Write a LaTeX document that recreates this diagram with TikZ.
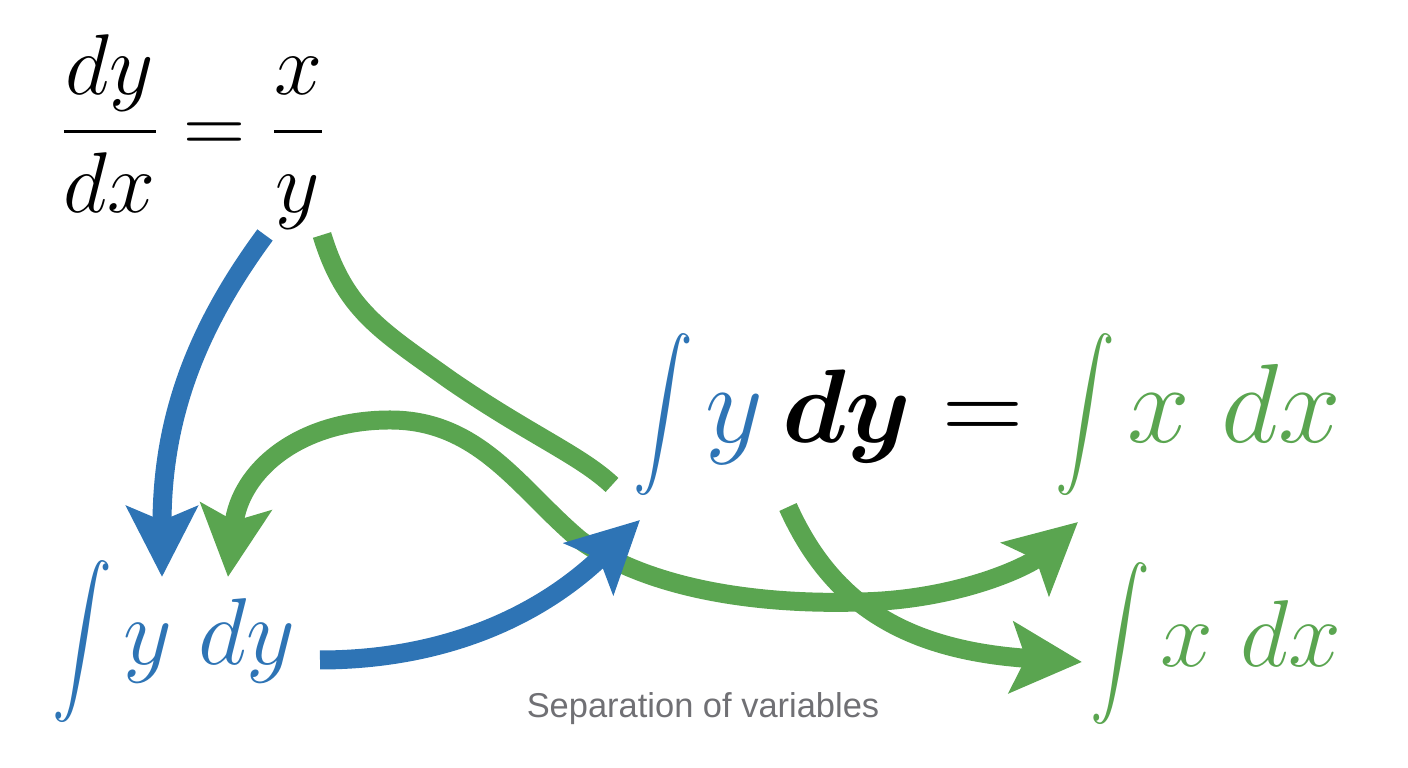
\RequirePackage{fix-cm}
\documentclass[tikz,border=0pt]{standalone}
\usepackage{exscale}
\usepackage{fontspec}
\usepackage{bm}
\newfontfamily\capfont{Liberation Sans}
\usetikzlibrary{arrows.meta}
\definecolor{flowblue}{RGB}{46,116,181}
\definecolor{flowgreen}{RGB}{90,165,80}
\definecolor{capgray}{RGB}{112,112,116}
% tall integral sign, centred on the math axis
\newcommand{\tallint}[1]{\vcenter{\hbox{\scalebox{0.82}[1]{\fontsize{#1}{#1}\selectfont$\displaystyle\int$}}}}

\begin{document}
\begin{tikzpicture}[x=0.01cm, y=-0.01cm,
	every node/.style={inner sep=0pt},
	>={Stealth[length=20pt,width=20pt,inset=4pt]},
	flow/.style={line width=5.4pt},
	blueflow/.style={flow, draw=flowblue},
	greenflow/.style={flow, draw=flowgreen}]
\useasboundingbox (0,0) rectangle (1408,768);

% the equations
\node[font=\fontsize{24.5}{29}\selectfont] (eq) at (193,132) {$\displaystyle\frac{dy}{dx} = \frac{x}{y}$};
\node[font=\fontsize{32}{38}\selectfont, anchor=base east] (sep) at (1342,443)
	{${\color{flowblue}\tallint{21.5}\mkern2mu y}\,\hbox{\scalebox{0.93}{$\bm{dy}$}} = {\color{flowgreen}\tallint{21.5}\mkern2mu x\;dx}$};
\node[font=\fontsize{27}{32}\selectfont, text=flowblue, anchor=base west] (inty) at (52,665) {$\tallint{19.2}\mkern2mu y\;dy$};
\node[font=\fontsize{27}{32}\selectfont, text=flowgreen, anchor=base east] (intx) at (1342,667) {$\tallint{19.2}\mkern2mu x\;dx$};
\node[font=\capfont\fontsize{9.8}{12}\selectfont, text=capgray, anchor=base] (cap) at (703,718) {Separation of variables};

% ends of the arrows
\coordinate (yleft) at (265,235);
\coordinate (yright) at (322,235);
\coordinate (tipA) at (162,577);
\coordinate (tipC) at (228,577);
\coordinate (intin) at (612,485);
\coordinate (dyout) at (320,660);
\coordinate (tipD) at (640,520);
\coordinate (tipCr) at (1078,522);
\coordinate (dxout) at (788,507);
\coordinate (tipE) at (1082,662);

% arrows
\draw[blueflow, ->] (yleft) .. controls (195,330) and (162,420) .. (tipA);
\draw[greenflow] (yright) .. controls (345,310) and (380,330) .. (450,380) .. controls (530,435) and (580,455) .. (intin);
\draw[greenflow, <->] (tipC) .. controls (240,470) and (300,420) .. (390,420)
	.. controls (480,420) and (520,490) .. (580,540)
	.. controls (650,590) and (760,605) .. (860,602)
	.. controls (960,600) and (1030,565) .. (tipCr);
\draw[greenflow, ->] (dxout) .. controls (830,600) and (900,650) .. (tipE);
\draw[blueflow, ->] (dyout) .. controls (430,660) and (530,625) .. (tipD);
\end{tikzpicture}
\end{document}
